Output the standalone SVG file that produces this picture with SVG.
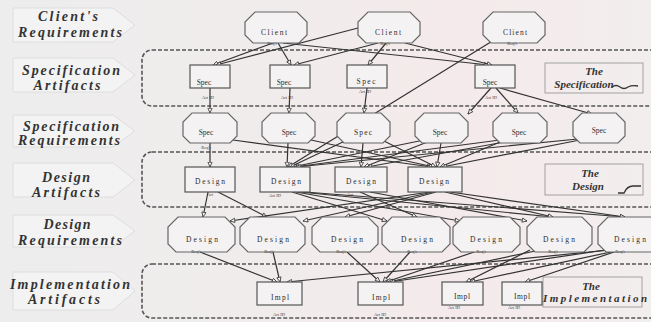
<svg xmlns="http://www.w3.org/2000/svg" width="651" height="322" viewBox="0 0 651 322">
  <defs>
    <linearGradient id="bg" x1="0" y1="0" x2="1" y2="0">
      <stop offset="0" stop-color="#ededed"/>
      <stop offset="0.45" stop-color="#f1ecec"/>
      <stop offset="0.7" stop-color="#f5eaeb"/>
      <stop offset="1" stop-color="#f2eeee"/>
    </linearGradient>
    <marker id="ah" viewBox="0 0 10 10" refX="9" refY="5" markerWidth="6" markerHeight="6" orient="auto" markerUnits="userSpaceOnUse">
      <path d="M1,1.5 L9,5 L1,8.5 z" fill="#f3f1f1" stroke="#333" stroke-width="1.3"/>
    </marker>
    <style>
      .lane { fill: #f3f3f3; stroke: #dedede; stroke-width: 1; }
      .lane-t { font-family: "Liberation Serif", "Times New Roman", serif; font-weight: bold; font-style: italic; font-size: 14px; fill: #333; text-anchor: middle; }
      .zone { fill: none; stroke: #555; stroke-width: 1.6; stroke-dasharray: 4 2; }
      .oct { fill: #f4f2f2; stroke: #666; stroke-width: 1.2; }
      .art { fill: #f4f2f2; stroke: #555; stroke-width: 1.2; }
      .sum { fill: none; stroke: #9a9a9a; stroke-width: 0.9; }
      .sum-t { font-family: "Liberation Serif", "Times New Roman", serif; font-weight: bold; font-style: italic; font-size: 11px; fill: #333; text-anchor: middle; }
      .nt { font-family: "Liberation Serif", "Times New Roman", serif; font-size: 7.5px; fill: #2e2e2e; text-anchor: middle; }
      .id { font-family: "Liberation Serif", "Times New Roman", serif; font-size: 4.5px; fill: #444; text-anchor: middle; }
      .edges line { stroke: #333; stroke-width: 1.2; marker-end: url(#ah); }
      .mark { fill: none; stroke: #333; stroke-width: 1.3; }
    </style>
  </defs>

  <rect width="651" height="322" fill="url(#bg)"/>

  <!-- lane captions (arrow tags on the left) -->
  <g id="lane-client">
    <polygon class="lane" points="13,8 113,8 135,25 113,42 13,42"/>
    <text class="lane-t" x="68" y="21" textLength="60" lengthAdjust="spacing">Client's</text>
    <text class="lane-t" x="70" y="37" textLength="104" lengthAdjust="spacing">Requirements</text>
  </g>
  <g id="lane-spec-art">
    <polygon class="lane" points="13,58 113,58 135,75 113,92 13,92"/>
    <text class="lane-t" x="71" y="75" textLength="98" lengthAdjust="spacing">Specification</text>
    <text class="lane-t" x="67" y="90" textLength="67" lengthAdjust="spacing">Artifacts</text>
  </g>
  <g id="lane-spec-req">
    <polygon class="lane" points="13,115 113,115 135,131 113,147 13,147"/>
    <text class="lane-t" x="71" y="131" textLength="96" lengthAdjust="spacing">Specification</text>
    <text class="lane-t" x="69" y="145" textLength="102" lengthAdjust="spacing">Requirements</text>
  </g>
  <g id="lane-design-art">
    <polygon class="lane" points="13,163 113,163 135,180 113,197 13,197"/>
    <text class="lane-t" x="66" y="182" textLength="48" lengthAdjust="spacing">Design</text>
    <text class="lane-t" x="66" y="197" textLength="68" lengthAdjust="spacing">Artifacts</text>
  </g>
  <g id="lane-design-req">
    <polygon class="lane" points="13,215 113,215 135,231 113,247 13,247"/>
    <text class="lane-t" x="67" y="229" textLength="47" lengthAdjust="spacing">Design</text>
    <text class="lane-t" x="70" y="245" textLength="104" lengthAdjust="spacing">Requirements</text>
  </g>
  <g id="lane-impl-art">
    <polygon class="lane" points="13,272 113,272 135,291 113,310 13,310"/>
    <text class="lane-t" x="70" y="289" textLength="120" lengthAdjust="spacing">Implementation</text>
    <text class="lane-t" x="64" y="304" textLength="72" lengthAdjust="spacing">Artifacts</text>
  </g>

  <!-- dashed artifact zones -->
  <g id="zones">
    <rect class="zone" x="142" y="50" width="520" height="56" rx="10"/>
    <rect class="zone" x="142" y="152" width="520" height="55" rx="10"/>
    <rect class="zone" x="142" y="264" width="520" height="54" rx="10"/>
  </g>

  <!-- summary boxes -->
  <g id="the-specification">
    <rect class="sum" x="545" y="63" width="98" height="30"/>
    <text class="sum-t" x="594" y="75">The</text>
    <text class="sum-t" x="584" y="88">Specification</text>
    <path class="mark" d="M612,87 q4,-3 8,0 t8,0 q4,-2 10,-1"/>
  </g>
  <g id="the-design">
    <rect class="sum" x="545" y="164" width="98" height="31"/>
    <text class="sum-t" x="590" y="177">The</text>
    <text class="sum-t" x="588" y="190">Design</text>
    <path class="mark" d="M618,193 L624,193 Q627,186 633,186 L641,186"/>
  </g>
  <g id="the-implementation">
    <rect class="sum" x="543" y="277" width="99" height="30"/>
    <text class="sum-t" x="591" y="290">The</text>
    <text class="sum-t" x="595" y="302" textLength="104" lengthAdjust="spacing">Implementation</text>
  </g>

  <!-- connectors -->
  <g id="connectors" class="edges">
    <!-- client requirements to specification artifacts -->
    <line x1="273" y1="43" x2="213" y2="65"/>
    <line x1="358" y1="28" x2="216" y2="65"/>
    <line x1="278" y1="43" x2="291" y2="65"/>
    <line x1="378" y1="43" x2="294" y2="65"/>
    <line x1="386" y1="43" x2="368" y2="65"/>
    <line x1="283" y1="43" x2="489" y2="65"/>
    <line x1="405" y1="43" x2="492" y2="65"/>
    <line x1="494" y1="40" x2="288" y2="167"/>
    <!-- specification artifacts to specification requirements -->
    <line x1="210" y1="88" x2="210" y2="113"/>
    <line x1="290" y1="88" x2="289" y2="113"/>
    <line x1="367" y1="88" x2="364" y2="113"/>
    <line x1="491" y1="88" x2="468" y2="114"/>
    <line x1="496" y1="88" x2="518" y2="113"/>
    <line x1="500" y1="88" x2="592" y2="114"/>
    <!-- specification requirements to design artifacts -->
    <line x1="210" y1="143" x2="210" y2="167"/>
    <line x1="233" y1="140" x2="432" y2="167"/>
    <line x1="288" y1="143" x2="287" y2="167"/>
    <line x1="311" y1="140" x2="434" y2="167"/>
    <line x1="345" y1="141" x2="290" y2="167"/>
    <line x1="363" y1="143" x2="361" y2="167"/>
    <line x1="382" y1="140" x2="436" y2="167"/>
    <line x1="424" y1="140" x2="292" y2="167"/>
    <line x1="430" y1="141" x2="364" y2="167"/>
    <line x1="441" y1="143" x2="437" y2="167"/>
    <line x1="500" y1="140" x2="294" y2="167"/>
    <line x1="505" y1="140" x2="440" y2="167"/>
    <line x1="510" y1="141" x2="367" y2="167"/>
    <line x1="578" y1="139" x2="296" y2="167"/>
    <line x1="580" y1="140" x2="442" y2="167"/>
    <!-- design artifacts to design requirements -->
    <line x1="208" y1="192" x2="203" y2="217"/>
    <line x1="218" y1="192" x2="267" y2="217"/>
    <line x1="292" y1="192" x2="387" y2="221"/>
    <line x1="296" y1="192" x2="460" y2="221"/>
    <line x1="300" y1="192" x2="553" y2="217"/>
    <line x1="305" y1="192" x2="625" y2="217"/>
    <line x1="360" y1="192" x2="417" y2="217"/>
    <line x1="370" y1="192" x2="527" y2="221"/>
    <line x1="430" y1="192" x2="230" y2="221"/>
    <line x1="433" y1="192" x2="303" y2="221"/>
    <line x1="436" y1="192" x2="345" y2="217"/>
    <line x1="445" y1="192" x2="553" y2="217"/>
    <line x1="450" y1="192" x2="625" y2="217"/>
    <!-- design requirements to implementation artifacts -->
    <line x1="200" y1="252" x2="277" y2="282"/>
    <line x1="273" y1="252" x2="280" y2="282"/>
    <line x1="347" y1="252" x2="380" y2="282"/>
    <line x1="410" y1="252" x2="383" y2="282"/>
    <line x1="480" y1="250" x2="386" y2="282"/>
    <line x1="540" y1="250" x2="388" y2="282"/>
    <line x1="612" y1="249" x2="390" y2="282"/>
    <line x1="530" y1="250" x2="466" y2="282"/>
    <line x1="625" y1="249" x2="470" y2="282"/>
    <line x1="620" y1="250" x2="525" y2="282"/>
    <line x1="650" y1="246" x2="287" y2="282"/>
  </g>

  <!-- client requirements -->
  <g id="client-1">
    <polygon class="oct" points="255,12 297,12 307,22 307,35 299,43 253,43 245,35 245,22"/>
    <text class="nt" x="274" y="35" textLength="26" lengthAdjust="spacing">Client</text>
    <text class="id" x="272" y="45">Req't</text>
  </g>
  <g id="client-2">
    <polygon class="oct" points="368,12 410,12 420,22 420,35 412,43 366,43 358,35 358,22"/>
    <text class="nt" x="388" y="35" textLength="26" lengthAdjust="spacing">Client</text>
    <text class="id" x="385" y="45">Req't</text>
  </g>
  <g id="client-3">
    <polygon class="oct" points="493,12 535,12 545,22 545,35 537,43 491,43 483,35 483,22"/>
    <text class="nt" x="515" y="35" textLength="24" lengthAdjust="spacing">Client</text>
    <text class="id" x="512" y="45">Req't</text>
  </g>

  <!-- specification artifacts -->
  <g id="spec-art-1">
    <rect class="art" x="190" y="65" width="40" height="23"/>
    <text class="nt" x="204" y="85">Spec</text>
    <text class="id" x="208" y="99">Art ID</text>
  </g>
  <g id="spec-art-2">
    <rect class="art" x="270" y="65" width="40" height="23"/>
    <text class="nt" x="284" y="85">Spec</text>
    <text class="id" x="287" y="99">Art ID</text>
  </g>
  <g id="spec-art-3">
    <rect class="art" x="347" y="65" width="40" height="23"/>
    <text class="nt" x="366" y="84" textLength="19" lengthAdjust="spacing">Spec</text>
    <text class="id" x="365" y="93">Art ID</text>
  </g>
  <g id="spec-art-4">
    <rect class="art" x="475" y="65" width="40" height="23"/>
    <text class="nt" x="490" y="85">Spec</text>
    <text class="id" x="491" y="99">Art ID</text>
  </g>

  <!-- specification requirements -->
  <g id="spec-req-1">
    <polygon class="oct" points="192,113 228,113 237,122 237,136 230,143 190,143 183,136 183,122"/>
    <text class="nt" x="206" y="135">Spec</text>
    <text class="id" x="206" y="149">Req't</text>
  </g>
  <g id="spec-req-2">
    <polygon class="oct" points="271,113 306,113 315,122 315,136 308,143 269,143 262,136 262,122"/>
    <text class="nt" x="289" y="135">Spec</text>
  </g>
  <g id="spec-req-3">
    <polygon class="oct" points="346,113 381,113 390,122 390,136 383,143 344,143 337,136 337,122"/>
    <text class="nt" x="363" y="135" textLength="18" lengthAdjust="spacing">Spec</text>
  </g>
  <g id="spec-req-4">
    <polygon class="oct" points="424,113 459,113 468,122 468,136 461,143 422,143 415,136 415,122"/>
    <text class="nt" x="440" y="135">Spec</text>
  </g>
  <g id="spec-req-5">
    <polygon class="oct" points="502,113 538,113 547,122 547,136 540,143 500,143 493,136 493,122"/>
    <text class="nt" x="519" y="135">Spec</text>
  </g>
  <g id="spec-req-6">
    <polygon class="oct" points="582,113 616,113 625,122 625,136 618,143 580,143 573,136 573,122"/>
    <text class="nt" x="599" y="133">Spec</text>
  </g>

  <!-- design artifacts -->
  <g id="design-art-1">
    <rect class="art" x="185" y="167" width="50" height="25"/>
    <text class="nt" x="210" y="184" textLength="30" lengthAdjust="spacing">Design</text>
    <text class="id" x="210" y="196">Art</text>
  </g>
  <g id="design-art-2">
    <rect class="art" x="260" y="167" width="50" height="25"/>
    <text class="nt" x="286" y="184" textLength="30" lengthAdjust="spacing">Design</text>
    <text class="id" x="275" y="197">Art ID</text>
  </g>
  <g id="design-art-3">
    <rect class="art" x="335" y="167" width="52" height="25"/>
    <text class="nt" x="361" y="184" textLength="30" lengthAdjust="spacing">Design</text>
    <text class="id" x="350" y="196">Art</text>
  </g>
  <g id="design-art-4">
    <rect class="art" x="408" y="167" width="54" height="25"/>
    <text class="nt" x="434" y="184" textLength="30" lengthAdjust="spacing">Design</text>
  </g>

  <!-- design requirements -->
  <g id="design-req-1">
    <polygon class="oct" points="178,217 225,217 235,227 235,244 227,252 176,252 168,244 168,227"/>
    <text class="nt" x="202" y="242" textLength="32" lengthAdjust="spacing">Design</text>
    <text class="id" x="196" y="253">Req't</text>
  </g>
  <g id="design-req-2">
    <polygon class="oct" points="250,217 295,217 305,227 305,244 297,252 248,252 240,244 240,227"/>
    <text class="nt" x="273" y="242" textLength="32" lengthAdjust="spacing">Design</text>
    <text class="id" x="269" y="253">Req't</text>
  </g>
  <g id="design-req-3">
    <polygon class="oct" points="322,217 368,217 378,227 378,244 370,252 320,252 312,244 312,227"/>
    <text class="nt" x="347" y="242" textLength="32" lengthAdjust="spacing">Design</text>
    <text class="id" x="341" y="253">Req't</text>
  </g>
  <g id="design-req-4">
    <polygon class="oct" points="392,217 440,217 450,227 450,244 442,252 390,252 382,244 382,227"/>
    <text class="nt" x="417" y="242" textLength="32" lengthAdjust="spacing">Design</text>
    <text class="id" x="412" y="253">Req't</text>
  </g>
  <g id="design-req-5">
    <polygon class="oct" points="463,217 510,217 520,227 520,244 512,252 461,252 453,244 453,227"/>
    <text class="nt" x="486" y="242" textLength="32" lengthAdjust="spacing">Design</text>
    <text class="id" x="481" y="253">Req't</text>
  </g>
  <g id="design-req-6">
    <polygon class="oct" points="537,217 582,217 592,227 592,244 584,252 535,252 527,244 527,227"/>
    <text class="nt" x="559" y="242" textLength="32" lengthAdjust="spacing">Design</text>
    <text class="id" x="553" y="253">Req't</text>
  </g>
  <g id="design-req-7">
    <polygon class="oct" points="608,217 654,217 664,227 664,244 656,252 606,252 598,244 598,227"/>
    <text class="nt" x="630" y="242" textLength="32" lengthAdjust="spacing">Design</text>
    <text class="id" x="620" y="253">Req't</text>
  </g>

  <!-- implementation artifacts -->
  <g id="impl-art-1">
    <rect class="art" x="257" y="282" width="45" height="23"/>
    <text class="nt" x="280" y="300" textLength="18" lengthAdjust="spacing">Impl</text>
    <text class="id" x="279" y="316">Art ID</text>
  </g>
  <g id="impl-art-2">
    <rect class="art" x="358" y="282" width="45" height="23"/>
    <text class="nt" x="381" y="300" textLength="18" lengthAdjust="spacing">Impl</text>
    <text class="id" x="380" y="316">Art ID</text>
  </g>
  <g id="impl-art-3">
    <rect class="art" x="442" y="282" width="41" height="23"/>
    <text class="nt" x="462" y="299" textLength="16" lengthAdjust="spacing">Impl</text>
    <text class="id" x="454" y="309">Art ID</text>
  </g>
  <g id="impl-art-4">
    <rect class="art" x="502" y="282" width="40" height="23"/>
    <text class="nt" x="522" y="299" textLength="16" lengthAdjust="spacing">Impl</text>
    <text class="id" x="514" y="309">Art ID</text>
  </g>
</svg>
